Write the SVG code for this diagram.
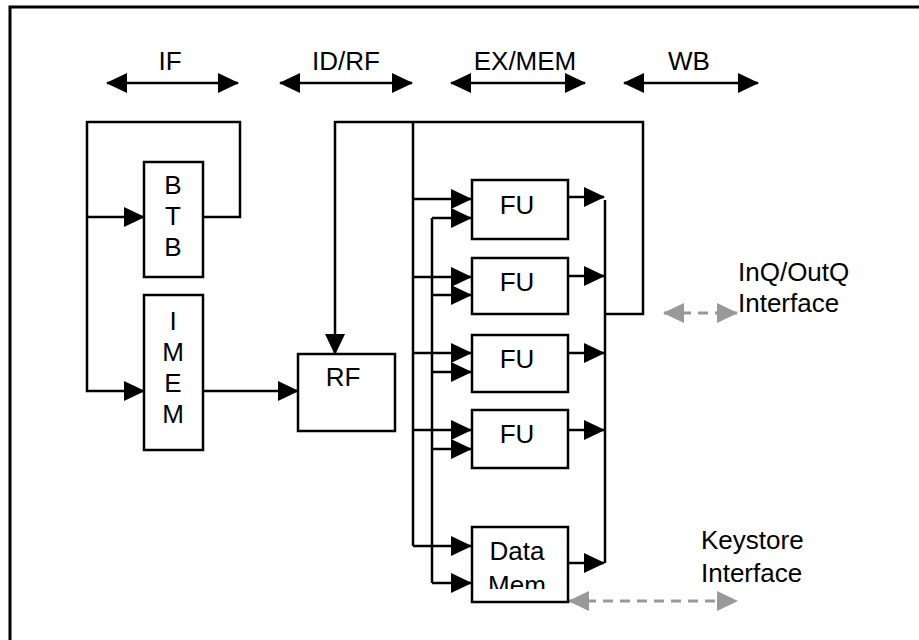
<svg xmlns="http://www.w3.org/2000/svg" width="919" height="640" viewBox="0 0 919 640">
<style>
text{font-family:"Liberation Sans",Arial,sans-serif;font-size:26px;fill:#000}
.c{text-anchor:middle}
.box{fill:#fff;stroke:#000;stroke-width:2.5}
.w{fill:none;stroke:#000;stroke-width:2.5}
.g{fill:none;stroke:#999;stroke-width:3;stroke-dasharray:10 7}
</style>
<defs>
<marker id="ah" markerUnits="userSpaceOnUse" markerWidth="21" markerHeight="20" refX="20" refY="10" orient="auto-start-reverse" viewBox="0 0 21 20">
<path d="M0,0 L21,10 L0,20 z" fill="#000"/>
</marker>
<marker id="gh" markerUnits="userSpaceOnUse" markerWidth="21" markerHeight="20" refX="20" refY="10" orient="auto-start-reverse" viewBox="0 0 21 20">
<path d="M0,0 L21,10 L0,20 z" fill="#999"/>
</marker>
<clipPath id="dmclip"><rect x="472" y="527" width="96" height="62"/></clipPath>
</defs>
<path d="M10,640 V7 H919" fill="none" stroke="#000" stroke-width="3"/>
<g id="stages">
<line class="w" x1="107" y1="83" x2="238" y2="83" marker-start="url(#ah)" marker-end="url(#ah)"/>
<line class="w" x1="280" y1="83" x2="412" y2="83" marker-start="url(#ah)" marker-end="url(#ah)"/>
<line class="w" x1="451" y1="83" x2="585" y2="83" marker-start="url(#ah)" marker-end="url(#ah)"/>
<line class="w" x1="624" y1="83" x2="758" y2="83" marker-start="url(#ah)" marker-end="url(#ah)"/>
<text class="c" x="170" y="70">IF</text>
<text class="c" x="346" y="70">ID/RF</text>
<text class="c" x="525" y="70">EX/MEM</text>
<text class="c" x="689" y="70">WB</text>
</g>
<g id="connectors">
<path class="w" d="M203,217 H240 V122 H87 V391 H144" marker-end="url(#ah)"/>
<path class="w" d="M87,217 H144" marker-end="url(#ah)"/>
<path class="w" d="M203,391 H298" marker-end="url(#ah)"/>
<path class="w" d="M605,314 H643 V122 H335 V354" marker-end="url(#ah)"/>
<path class="w" d="M413,122 V546"/>
<path class="w" d="M432,218 V583"/>
<path class="w" d="M413,199 H471" marker-end="url(#ah)"/>
<path class="w" d="M432,218 H471" marker-end="url(#ah)"/>
<path class="w" d="M413,277 H471" marker-end="url(#ah)"/>
<path class="w" d="M432,295 H471" marker-end="url(#ah)"/>
<path class="w" d="M413,353 H471" marker-end="url(#ah)"/>
<path class="w" d="M432,372 H471" marker-end="url(#ah)"/>
<path class="w" d="M413,430 H471" marker-end="url(#ah)"/>
<path class="w" d="M432,449 H471" marker-end="url(#ah)"/>
<path class="w" d="M413,546 H471" marker-end="url(#ah)"/>
<path class="w" d="M432,583 H471" marker-end="url(#ah)"/>
<path class="w" d="M605,200 V563"/>
<path class="w" d="M568,197 H604" marker-end="url(#ah)"/>
<path class="w" d="M568,276 H604" marker-end="url(#ah)"/>
<path class="w" d="M568,353 H604" marker-end="url(#ah)"/>
<path class="w" d="M568,430 H604" marker-end="url(#ah)"/>
<path class="w" d="M568,563 H604" marker-end="url(#ah)"/>
<line class="g" x1="664" y1="313" x2="737" y2="313" marker-start="url(#gh)" marker-end="url(#gh)"/>
<line class="g" x1="569" y1="601" x2="737" y2="601" marker-start="url(#gh)" marker-end="url(#gh)"/>
</g>
<g id="btb">
<rect class="box" x="144" y="162" width="59" height="115"/>
<text class="c" x="173" y="194">B</text>
<text class="c" x="173" y="225">T</text>
<text class="c" x="173" y="256">B</text>
</g>
<g id="imem">
<rect class="box" x="144" y="295" width="59" height="155"/>
<text class="c" x="173" y="330">I</text>
<text class="c" x="173" y="361">M</text>
<text class="c" x="173" y="392">E</text>
<text class="c" x="173" y="423">M</text>
</g>
<g id="rf">
<rect class="box" x="298" y="354" width="97" height="77"/>
<text class="c" x="343" y="386">RF</text>
</g>
<g id="fu1">
<rect class="box" x="472" y="180" width="96" height="59"/>
<text class="c" x="517" y="214">FU</text>
</g>
<g id="fu2">
<rect class="box" x="472" y="258" width="96" height="56"/>
<text class="c" x="517" y="291">FU</text>
</g>
<g id="fu3">
<rect class="box" x="472" y="335" width="96" height="57"/>
<text class="c" x="517" y="368">FU</text>
</g>
<g id="fu4">
<rect class="box" x="472" y="410" width="96" height="58"/>
<text class="c" x="517" y="443">FU</text>
</g>
<g id="datamem">
<rect class="box" x="472" y="527" width="96" height="75"/>
<g clip-path="url(#dmclip)">
<text class="c" x="517" y="560">Data</text>
<text class="c" x="517" y="594">Mem</text>
</g>
</g>
<g id="inq">
<text x="738" y="281">InQ/OutQ</text>
<text x="738" y="312">Interface</text>
</g>
<g id="keystore">
<text x="701" y="549">Keystore</text>
<text x="701" y="582">Interface</text>
</g>
</svg>
